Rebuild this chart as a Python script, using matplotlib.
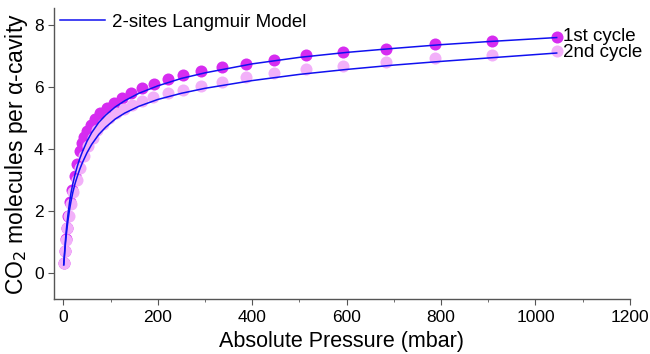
import matplotlib.pyplot as plt
from matplotlib.ticker import MultipleLocator

plt.rcParams['font.family'] = ['Liberation Sans', 'DejaVu Sans']

# 1st cycle (mbar, CO2 per alpha-cavity)
p1 = [1, 3, 5, 8, 10.5, 14, 18.5, 24, 29, 34.5, 39, 44, 50, 58.6, 68, 78, 92, 108,
      124, 143, 166, 191, 221, 253, 291, 335, 387, 446, 514, 592, 683, 787, 908, 1045]
q1 = [0.32, 0.7, 1.08, 1.45, 1.85, 2.28, 2.68, 3.12, 3.5, 3.93, 4.2, 4.38, 4.57, 4.78, 4.97,
      5.15, 5.31, 5.49, 5.66, 5.82, 5.97, 6.11, 6.25, 6.39, 6.51, 6.64, 6.76, 6.89, 7.03,
      7.12, 7.24, 7.38, 7.49, 7.62]

# 2nd cycle
p2 = [1, 3.5, 5.5, 8.5, 11, 16, 21, 28, 36, 44, 53, 62, 72, 84, 97, 112, 128, 146,
      166, 190, 221, 253, 291, 335, 387, 446, 514, 592, 683, 787, 908, 1045]
q2 = [0.33, 0.72, 1.06, 1.44, 1.82, 2.23, 2.62, 3.0, 3.4, 3.78, 4.1, 4.35, 4.6, 4.82, 5.0,
      5.16, 5.3, 5.43, 5.55, 5.68, 5.8, 5.91, 6.03, 6.17, 6.31, 6.44, 6.57, 6.69, 6.8,
      6.93, 7.05, 7.15]

# 2-sites Langmuir fit curves
fit_p = [0.7, 2, 4, 6, 8, 10, 13, 16, 20, 25, 30, 35, 40, 50, 60, 75, 90, 110, 130,
         160, 200, 250, 300, 400, 500, 600, 700, 800, 900, 1045]
fit1 = [0.26, 0.55, 0.98, 1.35, 1.65, 1.92, 2.27, 2.57, 2.88, 3.2, 3.47, 3.7, 3.9, 4.25,
        4.53, 4.86, 5.1, 5.36, 5.56, 5.8, 6.04, 6.28, 6.46, 6.75, 6.96, 7.12, 7.25,
        7.37, 7.47, 7.6]
fit2 = [0.26, 0.5, 0.88, 1.2, 1.48, 1.72, 2.04, 2.3, 2.6, 2.9, 3.14, 3.36, 3.55, 3.88,
        4.15, 4.47, 4.71, 4.97, 5.16, 5.38, 5.6, 5.8, 5.96, 6.21, 6.41, 6.57, 6.71,
        6.83, 6.94, 7.1]

fig, ax = plt.subplots(figsize=(6.5, 3.54), dpi=100)
fig.subplots_adjust(left=0.083, right=0.969, bottom=0.155, top=0.977)

ax.scatter(p1, q1, s=75, color='#d62cf0', linewidths=0, zorder=2)
ax.scatter(p2, q2, s=75, color='#f2b0f9', linewidths=0, zorder=3)
ax.plot(fit_p, fit1, color='#1010f0', lw=1.1, zorder=4, label='2-sites Langmuir Model')
ax.plot(fit_p, fit2, color='#1010f0', lw=1.1, zorder=4)

ax.text(1058, q1[-1] + 0.03, '1st cycle', fontsize=13.5, va='center', ha='left')
ax.text(1058, q2[-1] - 0.02, '2nd cycle', fontsize=13.5, va='center', ha='left')

ax.set_xlim(-20, 1200)
ax.set_ylim(-0.85, 8.55)
ax.xaxis.set_major_locator(MultipleLocator(200))
ax.xaxis.set_minor_locator(MultipleLocator(100))
ax.yaxis.set_major_locator(MultipleLocator(2))

for s in ['top', 'right']:
    ax.spines[s].set_visible(False)
for s in ['left', 'bottom']:
    ax.spines[s].set_color('#555555')
    ax.spines[s].set_linewidth(1.0)
ax.tick_params(which='both', direction='out', color='#555555', labelsize=12.5)
ax.tick_params(which='major', length=4)
ax.tick_params(which='minor', length=2.5)

ax.set_xlabel('Absolute Pressure (mbar)', fontsize=15.5, labelpad=5)
ax.set_ylabel('CO$_2$ molecules per α-cavity', fontsize=16.5, labelpad=3)

ax.legend(loc='upper left', frameon=False, fontsize=13.5, handlelength=2.4,
          borderaxespad=0.1, borderpad=0.2, handletextpad=0.4)

plt.savefig('out.png')
